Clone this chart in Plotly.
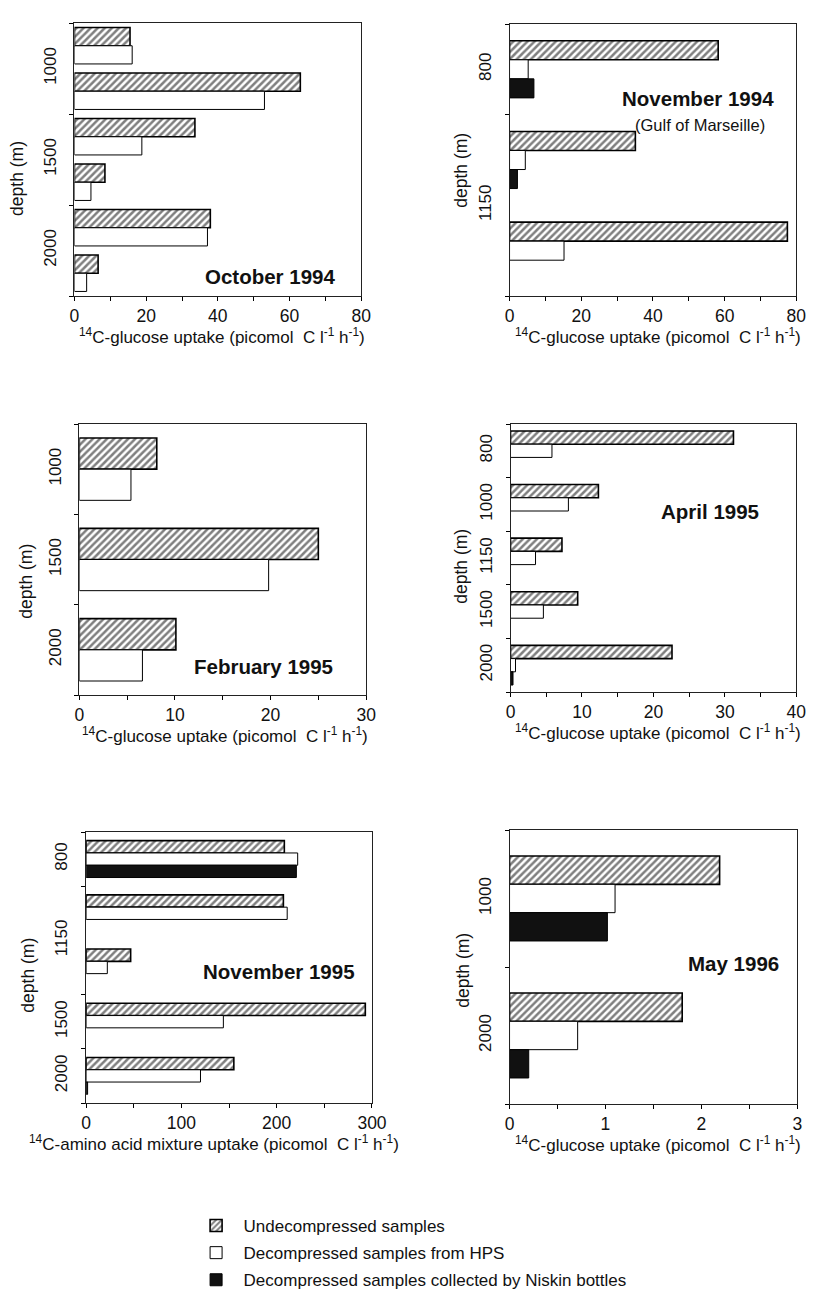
import plotly.graph_objects as go

W, H = 817, 1307
FONT = "Liberation Sans, Arial, sans-serif"

SERIES = ["Undecompressed samples",
          "Decompressed samples from HPS",
          "Decompressed samples collected by Niskin bottles"]

# ---- October 1994 (glucose) ----
oct94_depth = ["1000", "1000", "1500", "1500", "2000", "2000"]
oct94_undec = [15.5, 63.0, 33.6, 8.5, 37.9, 6.6]
oct94_hps = [16.1, 53.0, 18.8, 4.6, 37.1, 3.4]

# ---- November 1994 (glucose, Gulf of Marseille) ----
nov94_depth = ["800", "1150", "1150"]
nov94_undec = [58.2, 35.1, 77.5]
nov94_hps = [5.2, 4.4, 15.2]
nov94_niskin = [6.8, 2.2, None]

# ---- February 1995 (glucose) ----
feb95_depth = ["1000", "1500", "2000"]
feb95_undec = [8.1, 25.0, 10.1]
feb95_hps = [5.4, 19.8, 6.6]

# ---- April 1995 (glucose) ----
apr95_depth = ["800", "1000", "1150", "1500", "2000"]
apr95_undec = [31.2, 12.3, 7.2, 9.4, 22.6]
apr95_hps = [5.8, 8.1, 3.5, 4.6, 0.7]
apr95_niskin = [None, None, None, None, 0.35]

# ---- November 1995 (amino acid mixture) ----
nov95_depth = ["800", "1150", "1150", "1500", "2000"]
nov95_undec = [208, 207, 46.7, 293, 155]
nov95_hps = [222, 211, 22.2, 144, 120]
nov95_niskin = [220.6, None, None, None, 1.5]

# ---- May 1996 (glucose) ----
may96_depth = ["1000", "2000"]
may96_undec = [2.19, 1.80]
may96_hps = [1.10, 0.71]
may96_niskin = [1.02, 0.20]

GLU = "<sup>14</sup>C-glucose uptake (picomol  C l<sup>-1</sup> h<sup>-1</sup>)"
AMI = "<sup>14</sup>C-amino acid mixture uptake (picomol  C l<sup>-1</sup> h<sup>-1</sup>)"

panels = [
    dict(depth=oct94_depth, vals=[oct94_undec, oct94_hps], xmax=80, dt=20,
         box=(63, 357, 15, 288), frac=0.80, title="October 1994", tpos=(332, 268),
         xt=GLU, xtx=214, ytpos=(4, 170)),
    dict(depth=nov94_depth, vals=[nov94_undec, nov94_hps, nov94_niskin], xmax=80, dt=20,
         box=(509, 803, 16, 288), frac=0.63, title="November 1994", tpos=(782, 90),
         sub="(Gulf of Marseille)", spos=(704, 117),
         xt=GLU, xtx=661, ytpos=(459, 162)),
    dict(depth=feb95_depth, vals=[feb95_undec, feb95_hps], xmax=30, dt=10,
         box=(68, 362, 416, 687), frac=0.69, title="February 1995", tpos=(330, 658),
         xt=GLU, xtx=217, ytpos=(13, 573)),
    dict(depth=apr95_depth, vals=[apr95_undec, apr95_hps, apr95_niskin], xmax=40, dt=10,
         box=(510, 803, 416, 684), frac=0.74, title="April 1995", tpos=(767, 503),
         xt=GLU, xtx=661, ytpos=(459, 558)),
    dict(depth=nov95_depth, vals=[nov95_undec, nov95_hps, nov95_niskin], xmax=300, dt=100,
         box=(75, 368, 824, 1095), frac=0.68, title="November 1995", tpos=(353, 963),
         xt=AMI, xtx=206, ytpos=(15, 967)),
    dict(depth=may96_depth, vals=[may96_undec, may96_hps, may96_niskin], xmax=3, dt=1,
         box=(509, 804, 822, 1096), frac=0.62, title="May 1996", tpos=(787, 955),
         xt=GLU, xtx=661, ytpos=(461, 962)),
]

def style(k):
    if k == 0:
        return dict(color="white", line=dict(color="black", width=1.6),
                    pattern=dict(shape="/", fgcolor="black", bgcolor="white",
                                 size=5, solidity=0.5))
    if k == 1:
        return dict(color="white", line=dict(color="black", width=1))
    return dict(color="#111111", line=dict(color="black", width=1))

fig = go.Figure()
layout = {}
annotations = []
legend_done = set()

for p_i, p in enumerate(panels):
    s = "" if p_i == 0 else str(p_i + 1)
    depth = p["depth"]
    n = len(depth)
    ys = list(range(n))
    nser = len(p["vals"])
    slot = p["frac"] / nser
    for k, v in enumerate(p["vals"]):
        show = k not in legend_done
        if show:
            legend_done.add(k)
        fig.add_trace(go.Bar(
            x=v, y=ys, orientation="h", width=slot,
            offset=-p["frac"] / 2 + k * slot,
            marker=style(k), name=SERIES[k], legendgroup=SERIES[k],
            legendrank=k, showlegend=show,
            xaxis="x" + s, yaxis="y" + s, hoverinfo="x+name"))
    # group centres and boundaries derived from depth labels
    labels, centers, bounds = [], [], [-0.5]
    start = 0
    for i in range(1, n + 1):
        if i == n or depth[i] != depth[i - 1]:
            labels.append(depth[i - 1])
            centers.append((start + i - 1) / 2)
            bounds.append(i - 0.5)
            start = i
    x0, x1, y0, y1 = p["box"]
    layout["xaxis" + s] = dict(
        domain=[x0 / W, x1 / W], anchor="y" + s, range=[0, p["xmax"]],
        tickmode="linear", tick0=0, dtick=p["dt"], ticks="outside", ticklen=4,
        tickcolor="black", showline=True, mirror=True, linecolor="#222",
        linewidth=1, showgrid=False, zeroline=False, ticklabelstandoff=0,
        tickfont=dict(size=17.5, family=FONT, color="#111"),
        minor=dict(dtick=p["dt"] / 2, tick0=0, ticks="outside", ticklen=4,
                   tickcolor="black", showgrid=False))
    layout["yaxis" + s] = dict(
        domain=[1 - y1 / H, 1 - y0 / H], anchor="x" + s, range=[n - 0.5, -0.5],
        tickmode="array", tickvals=centers, ticktext=labels, ticks="",
        tickangle=-90, showline=True, mirror=True, linecolor="#222",
        linewidth=1, showgrid=False, zeroline=False, ticklabelstandoff=11,
        tickfont=dict(size=17, family=FONT, color="#111"),
        minor=dict(tickmode="array", tickvals=bounds, ticks="outside",
                   ticklen=4, tickcolor="black", showgrid=False))
    annotations.append(dict(
        text="<b>" + p["title"] + "</b>", xref="paper", yref="paper",
        x=p["tpos"][0] / W, y=1 - p["tpos"][1] / H, xanchor="right",
        yanchor="middle", showarrow=False,
        font=dict(size=20.5, family=FONT, color="#111")))
    if "sub" in p:
        annotations.append(dict(
            text=p["sub"], xref="paper", yref="paper",
            x=p["spos"][0] / W, y=1 - p["spos"][1] / H, xanchor="center",
            yanchor="middle", showarrow=False,
            font=dict(size=16.5, family=FONT, color="#111")))
    annotations.append(dict(
        text=p["xt"], xref="paper", yref="paper",
        x=p["xtx"] / W, y=1 - (y1 + 40) / H, xanchor="center",
        yanchor="middle", showarrow=False,
        font=dict(size=17, family=FONT, color="#111")))
    annotations.append(dict(
        text="depth (m)", xref="paper", yref="paper",
        x=p["ytpos"][0] / W, y=1 - p["ytpos"][1] / H, xanchor="center",
        yanchor="middle", textangle=-90, showarrow=False,
        font=dict(size=17.5, family=FONT, color="#111")))

fig.update_layout(
    width=W, height=H, margin=dict(l=0, r=0, t=0, b=0),
    paper_bgcolor="white", plot_bgcolor="white", barmode="overlay",
    font=dict(family=FONT, color="#111"),
    annotations=annotations,
    showlegend=True,
    legend=dict(x=180 / W, y=1 - 1200 / H, xanchor="left", yanchor="top",
                traceorder="grouped", tracegroupgap=2, itemwidth=45,
                font=dict(size=17, family=FONT, color="#111"),
                bgcolor="rgba(0,0,0,0)"),
    **layout)

fig.write_html("out.html")
